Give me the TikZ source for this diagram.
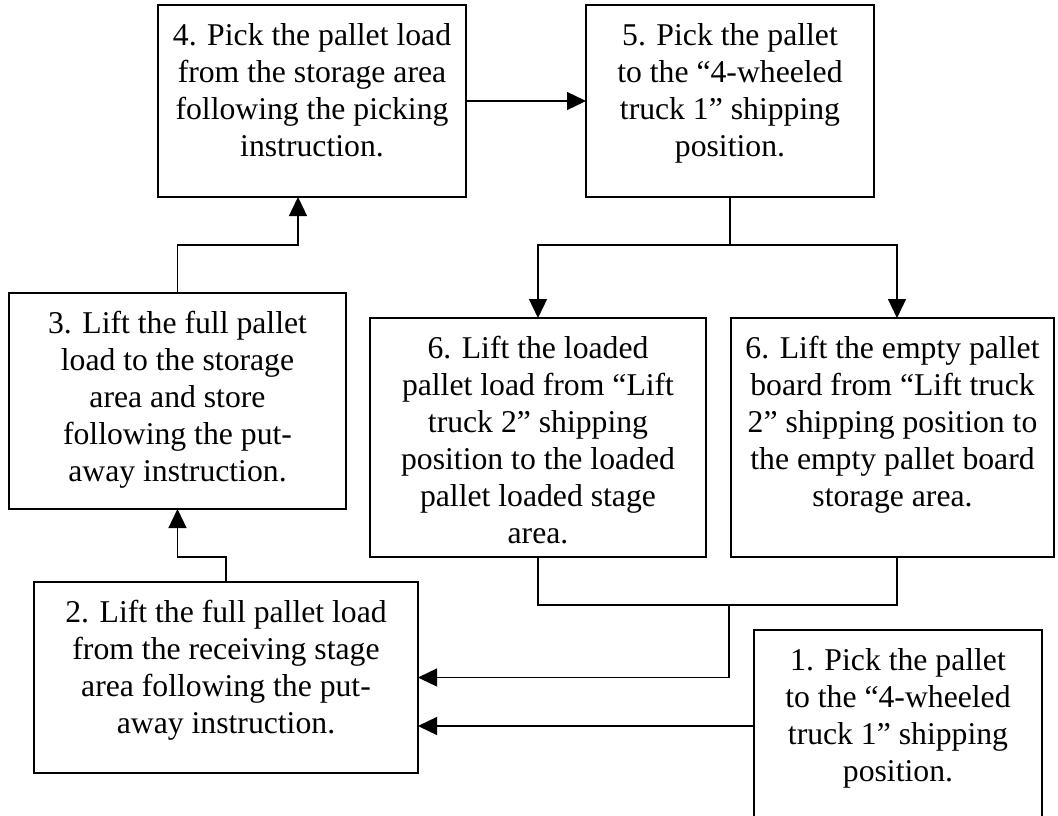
\documentclass[tikz,border=0pt]{standalone}
\usepackage{fontspec}
\setmainfont{Liberation Serif}
\usetikzlibrary{arrows.meta}

% text of one step, set from the top of a box of fixed size
\newcommand\stepbody[3]{%
  \parbox[c][#2][t]{#1}{\centering\fontsize{31.7}{37}\selectfont
    \vspace*{14.6pt}\strut #3}}

\tikzset{
  stepbox/.style={draw, line width=1.3pt, inner sep=0pt, outer sep=0pt,
    anchor=north west},
  link/.style={line width=1.3pt},
  arr/.style={link, -{Triangle[length=19pt,width=18pt]}}
}

\begin{document}
\begin{tikzpicture}[x=1pt,y=-1pt]
\useasboundingbox (0,0) rectangle (1058,816);

% steps
\node[stepbox] (b4) at (158,5) {\stepbody{308pt}{192pt}{%
  4. Pick the pallet load\\ from the storage area\\ following the picking\\ instruction.}};
\node[stepbox] (b5) at (586,5) {\stepbody{288pt}{192pt}{%
  5. Pick the pallet\\ to the “4-wheeled\\ truck 1” shipping\\ position.}};
\node[stepbox] (b3) at (9,293) {\stepbody{337pt}{216pt}{%
  3. Lift the full pallet\\ load to the storage\\ area and store\\ following the put-\\ away instruction.}};
\node[stepbox] (b6a) at (370,318) {\stepbody{336pt}{239pt}{%
  6. Lift the loaded\\ pallet load from “Lift\\ truck 2” shipping\\ position to the loaded\\ pallet loaded stage\\ area.}};
\node[stepbox] (b6b) at (731,318) {\stepbody{323pt}{239pt}{%
  6. Lift the empty pallet\\ board from “Lift truck\\ 2” shipping position to\\ the empty pallet board\\ storage area.}};
\node[stepbox] (b2) at (34,582) {\stepbody{384pt}{191pt}{%
  2. Lift the full pallet load\\ from the receiving stage\\ area following the put-\\ away instruction.}};
\node[stepbox] (b1) at (754,630) {\stepbody{288pt}{192pt}{%
  1. Pick the pallet\\ to the “4-wheeled\\ truck 1” shipping\\ position.}};

% bends of the connectors
\coordinate (k34) at (298,245);
\coordinate (split5) at (730,245);
\coordinate (in6b) at (897,245);
\coordinate (out6b) at (897,557);
\coordinate (join6) at (729,605);

% connectors
\draw[arr] (b4.east) -- (b4.east -| b5.west);
\draw[arr] (b3.north) |- (k34) -- (k34 |- b4.south);
\draw[link] (b5.south) -- (split5);
\draw[arr] (split5) -| (b6a.north);
\draw[arr] (split5) -- (in6b) -- (in6b |- b6b.north);
\draw[arr] (b2.north) -- ++(0,-25) -| (b3.south);
\draw[link] (b6a.south) |- (join6) -| (out6b);
\draw[arr] (join6) |- (b2.east);
\draw[arr] (b1.west) -- (b1.west -| b2.east);
\end{tikzpicture}
\end{document}
